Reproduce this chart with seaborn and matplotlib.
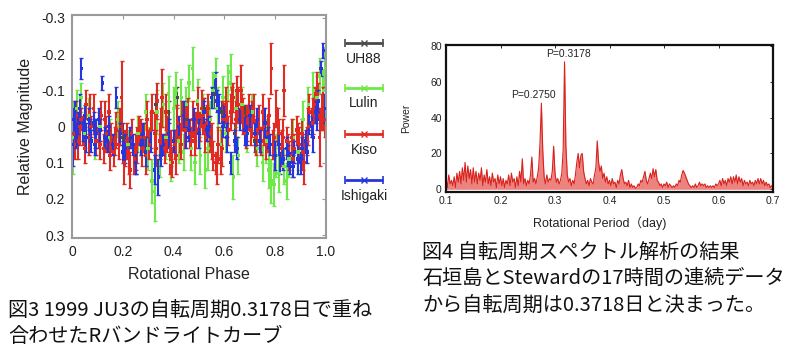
import numpy as np
import pandas as pd
import matplotlib
matplotlib.use("Agg")
import matplotlib.pyplot as plt
import seaborn as sns

# ---------------- data: light curve (Fig.3) ----------------
series_names = ["UH88", "Lulin", "Kiso", "Ishigaki"]
series_colors = ["#4a4a4a", "#6fe84a", "#e02a22", "#2436dc"]

uh88_phase = [0.20, 0.25, 0.28, 0.33, 0.38, 0.415, 0.45, 0.52, 0.56, 0.59, 0.64, 0.68, 0.72]
uh88_mag = [0.03, 0.09, 0.03, -0.06, -0.04, -0.08, -0.02, -0.05, -0.09, -0.04, 0.02, -0.03, 0.04]
uh88_err = [0.04, 0.04, 0.03, 0.03, 0.03, 0.03, 0.03, 0.03, 0.04, 0.03, 0.03, 0.03, 0.03]

lulin_phase = [0.003, 0.02, 0.035, 0.05, 0.065, 0.09, 0.11, 0.15, 0.18, 0.22, 0.26, 0.29, 0.30,
               0.315, 0.325, 0.335, 0.345, 0.36, 0.37, 0.38, 0.39, 0.40, 0.41, 0.42, 0.43, 0.44,
               0.45, 0.46, 0.47, 0.475, 0.485, 0.495, 0.505, 0.515, 0.525, 0.535, 0.545, 0.555,
               0.565, 0.575, 0.585, 0.595, 0.605, 0.615, 0.625, 0.635, 0.645, 0.655, 0.67, 0.69,
               0.71, 0.73, 0.75, 0.765, 0.775, 0.785, 0.795, 0.805, 0.815, 0.825, 0.835, 0.845,
               0.855, 0.87, 0.89, 0.91, 0.93, 0.95, 0.965, 0.975, 0.99, 0.998]
lulin_mag = [0.03, -0.05, -0.08, 0.02, -0.03, 0.05, 0.00, 0.03, -0.02, 0.05, 0.02, -0.04, 0.06,
             0.15, 0.18, -0.04, 0.08, -0.06, 0.03, -0.09, 0.10, -0.05, -0.10, 0.04, -0.08, 0.07,
             -0.06, -0.12, 0.06, -0.16, 0.10, -0.07, 0.08, -0.04, 0.12, 0.06, -0.02, -0.10,
             -0.14, -0.05, 0.05, -0.08, 0.02, -0.12, -0.15, 0.14, -0.05, 0.08, -0.06, 0.02,
             -0.04, 0.06, 0.10, 0.04, 0.12, 0.15, 0.16, 0.08, 0.13, 0.06, 0.11, 0.15,
             0.09, 0.03, 0.07, -0.02, -0.06, -0.10, -0.08, -0.14, -0.10, -0.16]
lulin_err = [0.10, 0.05, 0.04, 0.04, 0.05, 0.04, 0.04, 0.05, 0.05, 0.04, 0.05, 0.05, 0.06,
             0.06, 0.08, 0.06, 0.06, 0.06, 0.06, 0.05, 0.05, 0.06, 0.05, 0.06, 0.05, 0.05,
             0.05, 0.05, 0.06, 0.06, 0.06, 0.06, 0.05, 0.05, 0.05, 0.06, 0.05, 0.05,
             0.05, 0.06, 0.05, 0.06, 0.05, 0.05, 0.05, 0.06, 0.05, 0.05, 0.05, 0.05,
             0.05, 0.05, 0.05, 0.06, 0.05, 0.06, 0.06, 0.06, 0.05, 0.05, 0.05, 0.05,
             0.05, 0.05, 0.05, 0.05, 0.05, 0.05, 0.06, 0.05, 0.06, 0.06]

kiso_phase = [0.005, 0.015, 0.025, 0.035, 0.045, 0.055, 0.065, 0.075, 0.085, 0.095,
              0.105, 0.115, 0.125, 0.135, 0.145, 0.155, 0.165, 0.175, 0.185, 0.195,
              0.205, 0.215, 0.225, 0.235, 0.245, 0.255, 0.265, 0.275, 0.285, 0.295,
              0.305, 0.315, 0.325, 0.335, 0.345, 0.355, 0.365, 0.375, 0.385, 0.395,
              0.405, 0.415, 0.425, 0.435, 0.445, 0.455, 0.465, 0.475, 0.485, 0.495,
              0.505, 0.515, 0.525, 0.535, 0.545, 0.555, 0.565, 0.575, 0.585, 0.595,
              0.605, 0.615, 0.625, 0.635, 0.645, 0.655, 0.665, 0.675, 0.685, 0.695,
              0.705, 0.715, 0.725, 0.735, 0.745, 0.755, 0.765, 0.775, 0.785, 0.795,
              0.805, 0.815, 0.825, 0.835, 0.845, 0.855, 0.865, 0.875, 0.885, 0.895,
              0.905, 0.915, 0.925, 0.935, 0.945, 0.955, 0.965, 0.975, 0.985, 0.995,
              0.01, 0.03, 0.05, 0.07, 0.09, 0.11, 0.13, 0.15, 0.17, 0.19,
              0.21, 0.23, 0.25, 0.27, 0.29, 0.31, 0.33, 0.35, 0.37, 0.39,
              0.41, 0.43, 0.45, 0.47, 0.49, 0.51, 0.53, 0.55, 0.57, 0.59,
              0.61, 0.63, 0.65, 0.67, 0.69, 0.71, 0.73, 0.75, 0.77, 0.79,
              0.81, 0.83, 0.85, 0.87, 0.89, 0.91, 0.93, 0.95, 0.97, 0.99]
kiso_mag = [0.02, -0.03, 0.04, -0.02, 0.01, -0.06, 0.03, 0.00, -0.05, 0.04,
            0.01, -0.03, 0.06, 0.02, -0.04, 0.03, 0.07, 0.01, 0.05, -0.08,
            0.10, 0.04, 0.08, 0.02, 0.09, 0.05, 0.01, 0.06, 0.03, -0.02,
            0.05, -0.04, 0.02, -0.07, 0.04, -0.08, 0.06, 0.02, 0.08, 0.10,
            0.05, -0.01, 0.03, -0.03, 0.01, -0.04, 0.02, -0.02, 0.04, -0.06,
            0.00, -0.03, 0.03, -0.05, 0.02, 0.08, 0.10, 0.05, 0.09, -0.02,
            -0.06, 0.01, -0.04, -0.08, -0.02, -0.06, -0.10, -0.03, 0.02, -0.04,
            0.01, -0.05, 0.03, -0.02, 0.04, 0.00, 0.05, -0.03, -0.16, 0.03,
            -0.05, 0.02, 0.06, -0.10, 0.04, 0.08, 0.03, 0.06, 0.01, 0.05,
            0.02, 0.10, 0.04, -0.04, -0.01, -0.06, -0.09, 0.03, -0.04, -0.02,
            0.05, 0.00, 0.06, -0.04, 0.02, 0.05, -0.02, 0.08, 0.04, 0.00,
            0.06, 0.12, 0.07, 0.03, 0.08, 0.01, 0.06, 0.00, -0.04, 0.06,
            0.08, 0.05, -0.01, 0.04, 0.01, -0.05, -0.01, 0.04, 0.12, 0.06,
            -0.02, -0.06, -0.10, -0.05, -0.01, -0.02, 0.01, -0.04, 0.02, 0.05,
            0.00, 0.03, 0.06, 0.09, 0.04, 0.07, 0.00, -0.03, -0.07, -0.05]
kiso_err = [0.04, 0.04, 0.05, 0.03, 0.04, 0.04, 0.05, 0.03, 0.04, 0.04,
            0.05, 0.04, 0.04, 0.05, 0.05, 0.04, 0.04, 0.05, 0.04, 0.10,
            0.06, 0.05, 0.05, 0.04, 0.04, 0.05, 0.04, 0.05, 0.04, 0.05,
            0.04, 0.05, 0.06, 0.05, 0.05, 0.08, 0.04, 0.05, 0.05, 0.04,
            0.04, 0.05, 0.04, 0.04, 0.05, 0.04, 0.04, 0.05, 0.04, 0.05,
            0.04, 0.05, 0.04, 0.04, 0.05, 0.04, 0.03, 0.05, 0.04, 0.05,
            0.05, 0.04, 0.05, 0.04, 0.05, 0.05, 0.07, 0.05, 0.04, 0.05,
            0.04, 0.04, 0.05, 0.04, 0.04, 0.05, 0.04, 0.05, 0.07, 0.04,
            0.05, 0.04, 0.05, 0.07, 0.04, 0.04, 0.05, 0.04, 0.04, 0.05,
            0.04, 0.06, 0.04, 0.05, 0.04, 0.05, 0.06, 0.08, 0.05, 0.05,
            0.04, 0.05, 0.04, 0.05, 0.04, 0.04, 0.05, 0.04, 0.04, 0.05,
            0.05, 0.05, 0.05, 0.05, 0.05, 0.05, 0.05, 0.05, 0.05, 0.05,
            0.05, 0.04, 0.05, 0.04, 0.05, 0.05, 0.05, 0.05, 0.04, 0.05,
            0.05, 0.05, 0.04, 0.04, 0.05, 0.05, 0.04, 0.05, 0.05, 0.04,
            0.05, 0.05, 0.04, 0.05, 0.05, 0.05, 0.05, 0.05, 0.05, 0.06]

ishi_phase = [0.002, 0.01, 0.02, 0.03, 0.037, 0.045, 0.055, 0.065, 0.075, 0.085, 0.095,
              0.105, 0.12, 0.13, 0.145, 0.16, 0.175, 0.19, 0.21, 0.23, 0.25, 0.27, 0.29,
              0.31, 0.325, 0.34, 0.36, 0.38, 0.40, 0.42, 0.44, 0.46, 0.48, 0.50, 0.52,
              0.54, 0.55, 0.565, 0.58, 0.595, 0.61, 0.625, 0.64, 0.66, 0.68, 0.70, 0.72,
              0.74, 0.76, 0.78, 0.80, 0.815, 0.83, 0.845, 0.86, 0.875, 0.89, 0.905, 0.92,
              0.935, 0.95, 0.96, 0.97, 0.98, 0.99, 0.997,
              0.005, 0.015, 0.025, 0.05, 0.07, 0.09, 0.11, 0.14, 0.20, 0.24, 0.28, 0.35,
              0.45, 0.53, 0.57, 0.60, 0.65, 0.69, 0.73, 0.77, 0.82, 0.85, 0.87, 0.90,
              0.925, 0.945, 0.965]
ishi_mag = [0.05, -0.03, 0.02, -0.05, -0.16, 0.01, 0.03, -0.02, 0.04, -0.01, 0.02,
            -0.02, -0.12, 0.03, 0.00, 0.05, -0.08, 0.02, 0.06, 0.03, 0.10, 0.05, 0.07,
            0.04, 0.12, 0.14, 0.05, 0.02, 0.04, 0.00, -0.03, 0.01, -0.02, 0.02, -0.04,
            0.00, -0.08, -0.12, -0.05, 0.00, 0.03, 0.10, 0.04, -0.02, 0.01, -0.03, 0.02,
            0.04, -0.01, 0.05, 0.08, 0.05, 0.09, 0.06, 0.10, 0.07, 0.09, 0.06, 0.04,
            -0.01, 0.03, -0.04, -0.07, -0.16, -0.21, -0.05,
            -0.02, 0.03, -0.01, -0.03, 0.01, 0.05, 0.01, 0.04, 0.07, 0.05, 0.02, 0.08,
            0.03, 0.01, -0.07, -0.03, 0.06, 0.02, -0.02, 0.03, 0.10, 0.08, 0.11, 0.10,
            0.07, 0.00, -0.02]
ishi_err = [0.06, 0.04, 0.03, 0.04, 0.03, 0.03, 0.04, 0.03, 0.03, 0.03, 0.04,
            0.03, 0.02, 0.03, 0.03, 0.03, 0.03, 0.03, 0.04, 0.03, 0.03, 0.03, 0.04,
            0.03, 0.04, 0.05, 0.03, 0.04, 0.03, 0.03, 0.04, 0.03, 0.03, 0.04, 0.03,
            0.03, 0.03, 0.03, 0.04, 0.03, 0.04, 0.03, 0.03, 0.03, 0.04, 0.03, 0.03,
            0.03, 0.04, 0.03, 0.04, 0.03, 0.03, 0.03, 0.03, 0.03, 0.04, 0.03, 0.03,
            0.03, 0.04, 0.03, 0.03, 0.02, 0.02, 0.04,
            0.03, 0.03, 0.03, 0.03, 0.03, 0.03, 0.03, 0.03, 0.03, 0.03, 0.03, 0.03,
            0.03, 0.03, 0.03, 0.03, 0.03, 0.03, 0.03, 0.03, 0.03, 0.03, 0.03, 0.03,
            0.03, 0.03, 0.03]

# ---------------- data: period spectrum (Fig.4) ----------------
period_start, period_step = 0.1, 0.0025
spectrum_power = [
    6, 1, 8, 3, 5, 2, 7, 1, 9, 4, 10, 3, 12, 5, 15, 4, 13, 6, 11, 3,
    12, 4, 10, 3, 9, 5, 12, 2, 8, 4, 11, 3, 7, 2, 9, 4, 6, 1, 8, 3,
    7, 2, 6, 1, 5, 3, 8, 2, 9, 4, 6, 1, 7, 2, 10, 4, 17, 3, 6, 2,
    5, 3, 8, 18, 4, 6, 3, 7, 12, 26, 48, 22, 7, 3, 8, 4, 6, 5, 10, 24,
    9, 4, 6, 3, 5, 9, 22, 71, 24, 8, 4, 6, 2, 5, 3, 8, 15, 20, 12, 19,
    20, 10, 6, 3, 5, 2, 6, 4, 3, 8, 12, 27, 15, 10, 13, 6, 9, 4, 7, 3,
    5, 2, 6, 3, 4, 1, 5, 3, 8, 11, 6, 3, 4, 2, 5, 1, 3, 1, 2, 0.5,
    1, 3, 2, 5, 4, 7, 10, 5, 3, 6, 9, 6, 11.5, 7, 11, 5, 4, 2, 3, 1,
    3, 2, 4, 1, 3, 2, 1, 2, 1, 3, 2, 5, 4, 8, 10.5, 9, 7, 5, 3, 2,
    1, 2, 1, 3, 1, 2, 4, 2, 3, 2, 3, 1, 2, 1, 2, 1, 2, 1, 3, 2,
    3, 5, 2, 6, 3, 5, 2, 6, 4, 7, 3, 7, 4, 8, 3, 7, 4, 6, 2, 5,
    3, 4, 2, 5, 3, 4, 2, 5, 3, 6, 3, 6, 3, 5, 2, 4, 2, 3, 1, 2, 1,
]
peak_labels = ["P=0.2750", "P=0.3178"]
peak_periods = [0.275, 0.3175]
peak_powers = [48, 71]

caption3 = ["図3 1999 JU3の自転周期0.3178日で重ね", "合わせたRバンドライトカーブ"]
caption4 = ["図4 自転周期スペクトル解析の結果", "石垣島とStewardの17時間の連続データ",
            "から自転周期は0.3718日と決まった。"]

# ---------------- figure ----------------
sns.set_theme(style="white")
plt.rcParams["font.family"] = ["Liberation Sans", "Noto Sans CJK JP", "DejaVu Sans"]

fig = plt.figure(figsize=(7.9, 3.56), dpi=100)
W, H = 790, 356


def rect(l, t, r, b):
    return [l / W, 1 - b / H, (r - l) / W, (b - t) / H]


# ---- left panel ----
ax1 = fig.add_axes(rect(72, 15, 326, 238))
lc = pd.concat([
    pd.DataFrame({"phase": p, "mag": m, "err": e, "site": n})
    for p, m, e, n in [(uh88_phase, uh88_mag, uh88_err, "UH88"),
                       (lulin_phase, lulin_mag, lulin_err, "Lulin"),
                       (kiso_phase, kiso_mag, kiso_err, "Kiso"),
                       (ishi_phase, ishi_mag, ishi_err, "Ishigaki")]
], ignore_index=True)
for name, col in zip(series_names, series_colors):
    d = lc[lc["site"] == name]
    ax1.errorbar(d["phase"], d["mag"], yerr=d["err"], fmt="none", ecolor=col,
                 elinewidth=1.5, capsize=1.6, capthick=1.0, zorder=2)
sns.scatterplot(data=lc, x="phase", y="mag", hue="site", hue_order=series_names,
                palette=series_colors, marker="s", s=6, linewidth=0, legend=False,
                ax=ax1, zorder=3)
ax1.set_xlim(0, 1.0)
ax1.set_ylim(0.308, -0.308)
ax1.set_xticks([0, 0.2, 0.4, 0.6, 0.8, 1.0])
ax1.set_xticklabels(["0", "0.2", "0.4", "0.6", "0.8", "1.0"])
ax1.set_yticks([-0.3, -0.2, -0.1, 0, 0.1, 0.2, 0.3])
ax1.set_yticklabels(["-0.3", "-0.2", "-0.1", "0", "0.1", "0.2", "0.3"])
ax1.tick_params(axis="both", labelsize=10, direction="in", length=3, width=0.8,
                colors="#999999", labelcolor="#222222", top=True, right=True, pad=5)
for s in ax1.spines.values():
    s.set_color("#9a9a9a")
    s.set_linewidth(1.5)
ax1.set_xlabel("Rotational Phase", fontsize=11.5, color="#222222", labelpad=6)
ax1.xaxis.label.set_x(0.459)
ax1.set_ylabel("Relative Magnitude", fontsize=11.5, color="#222222", labelpad=6)

# legend (lines with label underneath), axes in pixel units
axl = fig.add_axes(rect(330, 0, 400, 356))
axl.set_xlim(330, 400)
axl.set_ylim(356, 0)
axl.axis("off")
legend_line_y = [43, 88, 134, 180]
legend_text_y = [59, 103, 150, 196]
for name, col, ly, ty in zip(series_names, series_colors, legend_line_y, legend_text_y):
    axl.errorbar([364], [ly], xerr=[19], fmt="x", color=col, ecolor=col,
                 markersize=4, elinewidth=2, capsize=3, capthick=1.2)
    axl.text(364, ty, name, ha="center", va="center", fontsize=10, color="#222222")

# ---- right panel ----
ax2 = fig.add_axes(rect(446, 45, 773, 192))
spec = pd.DataFrame({"period": np.round(period_start + period_step * np.arange(len(spectrum_power)), 4),
                     "power": spectrum_power})
ax2.fill_between(spec["period"], 0, spec["power"], color="#e0302a", alpha=0.6, linewidth=0)
sns.lineplot(data=spec, x="period", y="power", color="#d8221c", linewidth=0.8, ax=ax2)
for lab, px, py, dx in zip(peak_labels, peak_periods, peak_powers, [-6, 3]):
    ax2.annotate(lab, (px, py), xytext=(dx, 2), textcoords="offset points",
                 ha="center", va="bottom", fontsize=7.5, color="#222222")
ax2.set_xlim(0.1, 0.7)
ax2.set_ylim(-1.5, 80.4)
ax2.set_xticks([0.1, 0.2, 0.3, 0.4, 0.5, 0.6, 0.7])
ax2.set_yticks([0, 20, 40, 60, 80])
ax2.tick_params(axis="both", labelsize=7.5, direction="in", length=2.5, width=0.7,
                top=True, right=True, pad=3, labelcolor="#222222")
for s in ax2.spines.values():
    s.set_color("#111111")
    s.set_linewidth(1.6)
ax2.set_xlabel("Rotational Period（day)", fontsize=9, color="#222222", labelpad=7)
ax2.xaxis.label.set_x(0.469)
ax2.set_ylabel("Power", fontsize=7.5, color="#222222", labelpad=14)

# ---- captions ----
cap_font = ["Noto Sans CJK JP", "DejaVu Sans"]
for i, line in enumerate(caption3):
    fig.text(8 / W, 1 - (310 + 26.5 * i) / H, line, ha="left", va="center",
             fontsize=14.5, family=cap_font, color="#111111")
for i, line in enumerate(caption4):
    fig.text(422 / W, 1 - (252 + 26.5 * i) / H, line, ha="left", va="center",
             fontsize=14.5, family=cap_font, color="#111111")

fig.savefig("out.png", dpi=100)
